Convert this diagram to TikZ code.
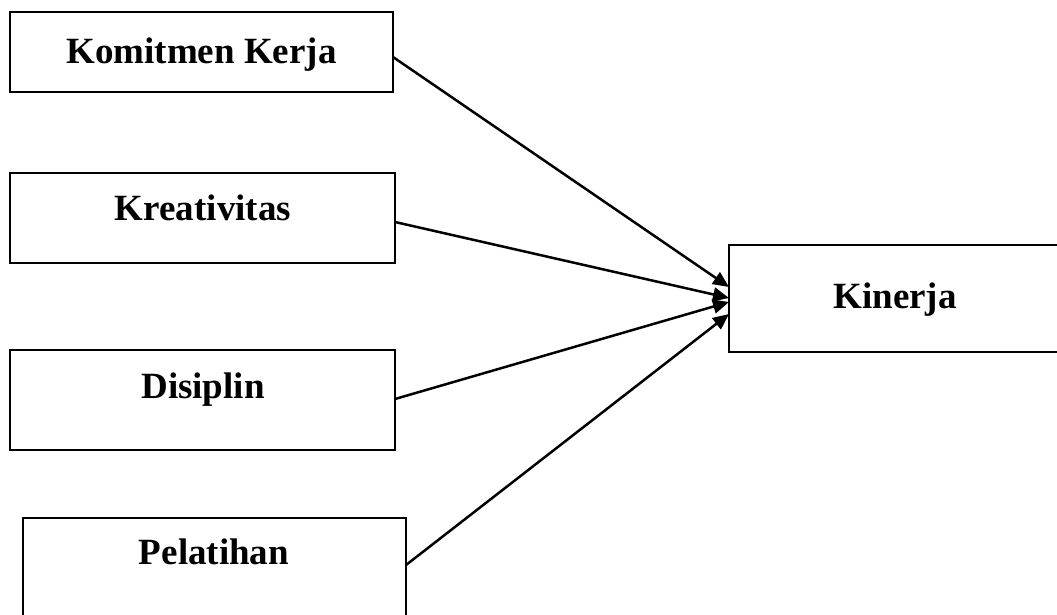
\documentclass[tikz,border=0pt]{standalone}
\usepackage{fontspec}
\setmainfont{Liberation Serif}
\usetikzlibrary{arrows.meta}
\begin{document}
\begin{tikzpicture}[x=1pt,y=-1pt,
  box/.style={draw, line width=2.3pt, minimum width=#1, inner sep=0pt, outer sep=0pt},
  lbl/.style={font=\fontsize{37}{44}\selectfont\bfseries, inner sep=0pt, anchor=base},
  conn/.style={line width=2.5pt, -{Triangle[length=16pt,width=14pt]}}]
\useasboundingbox (0,0) rectangle (1057,614);
\clip (0,0) rectangle (1057,614);
\node[box=383pt, minimum height=80pt] (k1) at (201.5,52) {};
\node[box=385pt, minimum height=90pt] (k2) at (202.5,218) {};
\node[box=385pt, minimum height=100pt] (k3) at (202.5,400) {};
\node[box=383pt, minimum height=110pt] (k4) at (214.5,573) {};
\node[box=332pt, minimum height=107pt] (y) at (895,298.5) {};
\node[lbl] (t1) at (201.5,63) {Komitmen Kerja};
\node[lbl] (t2) at (203,220) {Kreativitas};
\node[lbl] (t3) at (203,398) {Disiplin};
\node[lbl] (t4) at (214,564) {Pelatihan};
\node[lbl] (t5) at (895,308) {Kinerja};
\draw[conn] ([yshift=-5pt]k1.east) -- ([yshift=11.5pt]y.west);
\draw[conn] ([yshift=-4pt]k2.east) -- ([yshift=0.5pt]y.west);
\draw[conn] ([yshift=1pt]k3.east) -- ([yshift=-3.5pt]y.west);
\draw[conn] ([yshift=8pt]k4.east) -- ([yshift=-15.5pt]y.west);
\end{tikzpicture}
\end{document}
